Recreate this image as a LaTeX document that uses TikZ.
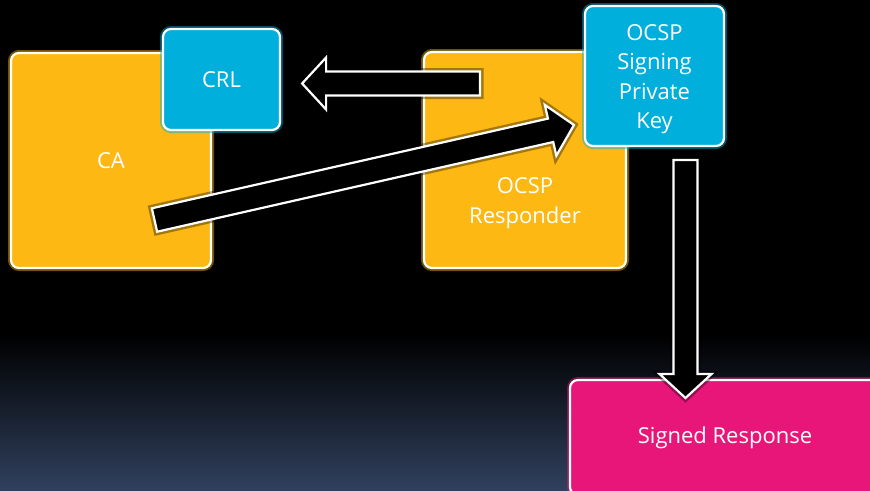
\documentclass[tikz,border=0pt]{standalone}
\usepackage{fontspec}
\setmainfont{Open Sans}
\usetikzlibrary{calc}

\definecolor{caorange}{RGB}{253,184,19}
\definecolor{keyblue}{RGB}{0,175,219}
\definecolor{signpink}{RGB}{233,22,122}
\definecolor{bgblue}{RGB}{48,64,93}

% block arrow from #1 (tail centre) to #2 (tip)
\newcommand\blockarrow[2]{%
  \path ($(#2)!24pt!(#1)$) coordinate (ba-m);
  \draw[blockarr]
    ($(#1)!12pt!90:(#2)$) -- ($(ba-m)!12pt!90:(#2)$) -- ($(ba-m)!26pt!90:(#2)$)
    -- (#2)
    -- ($(ba-m)!26pt!-90:(#2)$) -- ($(ba-m)!12pt!-90:(#2)$) -- ($(#1)!12pt!-90:(#2)$)
    -- cycle;}

\begin{document}
\begin{tikzpicture}[x=1pt,y=-1pt,
  box/.style={rounded corners=8pt, draw=white, line width=2.2pt,
    text=white, align=center, inner sep=0pt,
    font=\fontsize{22}{29.5}\selectfont,
    preaction={draw=#1, line width=6pt, opacity=0.45},
    fill=#1},
  lbl/.style={text=white, align=center, font=\fontsize{22}{29.5}\selectfont},
  blockarr/.style={fill=black, draw=white, line width=2.2pt, line join=miter,
    preaction={draw=black, line width=7pt, opacity=0.35}}]

\useasboundingbox (0,0) rectangle (870,490);

% background
\fill[black] (0,0) rectangle (870,490);
\shade[top color=black, bottom color=bgblue] (0,335) rectangle (870,490);

% boxes
\node[box=caorange, minimum width=200pt, minimum height=215pt] (ca) at (111,160.5) {CA};
\node[box=keyblue, minimum width=117pt, minimum height=101pt] (crl) at (221.5,79.5) {CRL};
\node[box=caorange, minimum width=202pt, minimum height=216pt] (resp) at (525,160) {};
\node[lbl] (resplbl) at ([yshift=-43pt]resp.center) {OCSP\\Responder};
\node[box=keyblue, minimum width=139pt, minimum height=140pt] (key) at (654.5,76) {};
\node[lbl] (keylbl) at ([yshift=-3pt]key.center) {OCSP\\Signing\\Private\\Key};
\node[box=signpink, minimum width=310pt, minimum height=115pt] (signed) at (725,437.5) {Signed Response};

% arrow end points
\coordinate (crlTail) at (480,83.5);
\coordinate (crlTip) at ([xshift=21pt]crl.east |- crlTail);
\coordinate (caTail) at (154.5,220);
\coordinate (caTip) at (574,125);
\coordinate (keyTail) at (685.5,160);
\coordinate (keyTip) at (685.5,398);

\blockarrow{crlTail}{crlTip}
\blockarrow{caTail}{caTip}
\blockarrow{keyTail}{keyTip}

\end{tikzpicture}
\end{document}
